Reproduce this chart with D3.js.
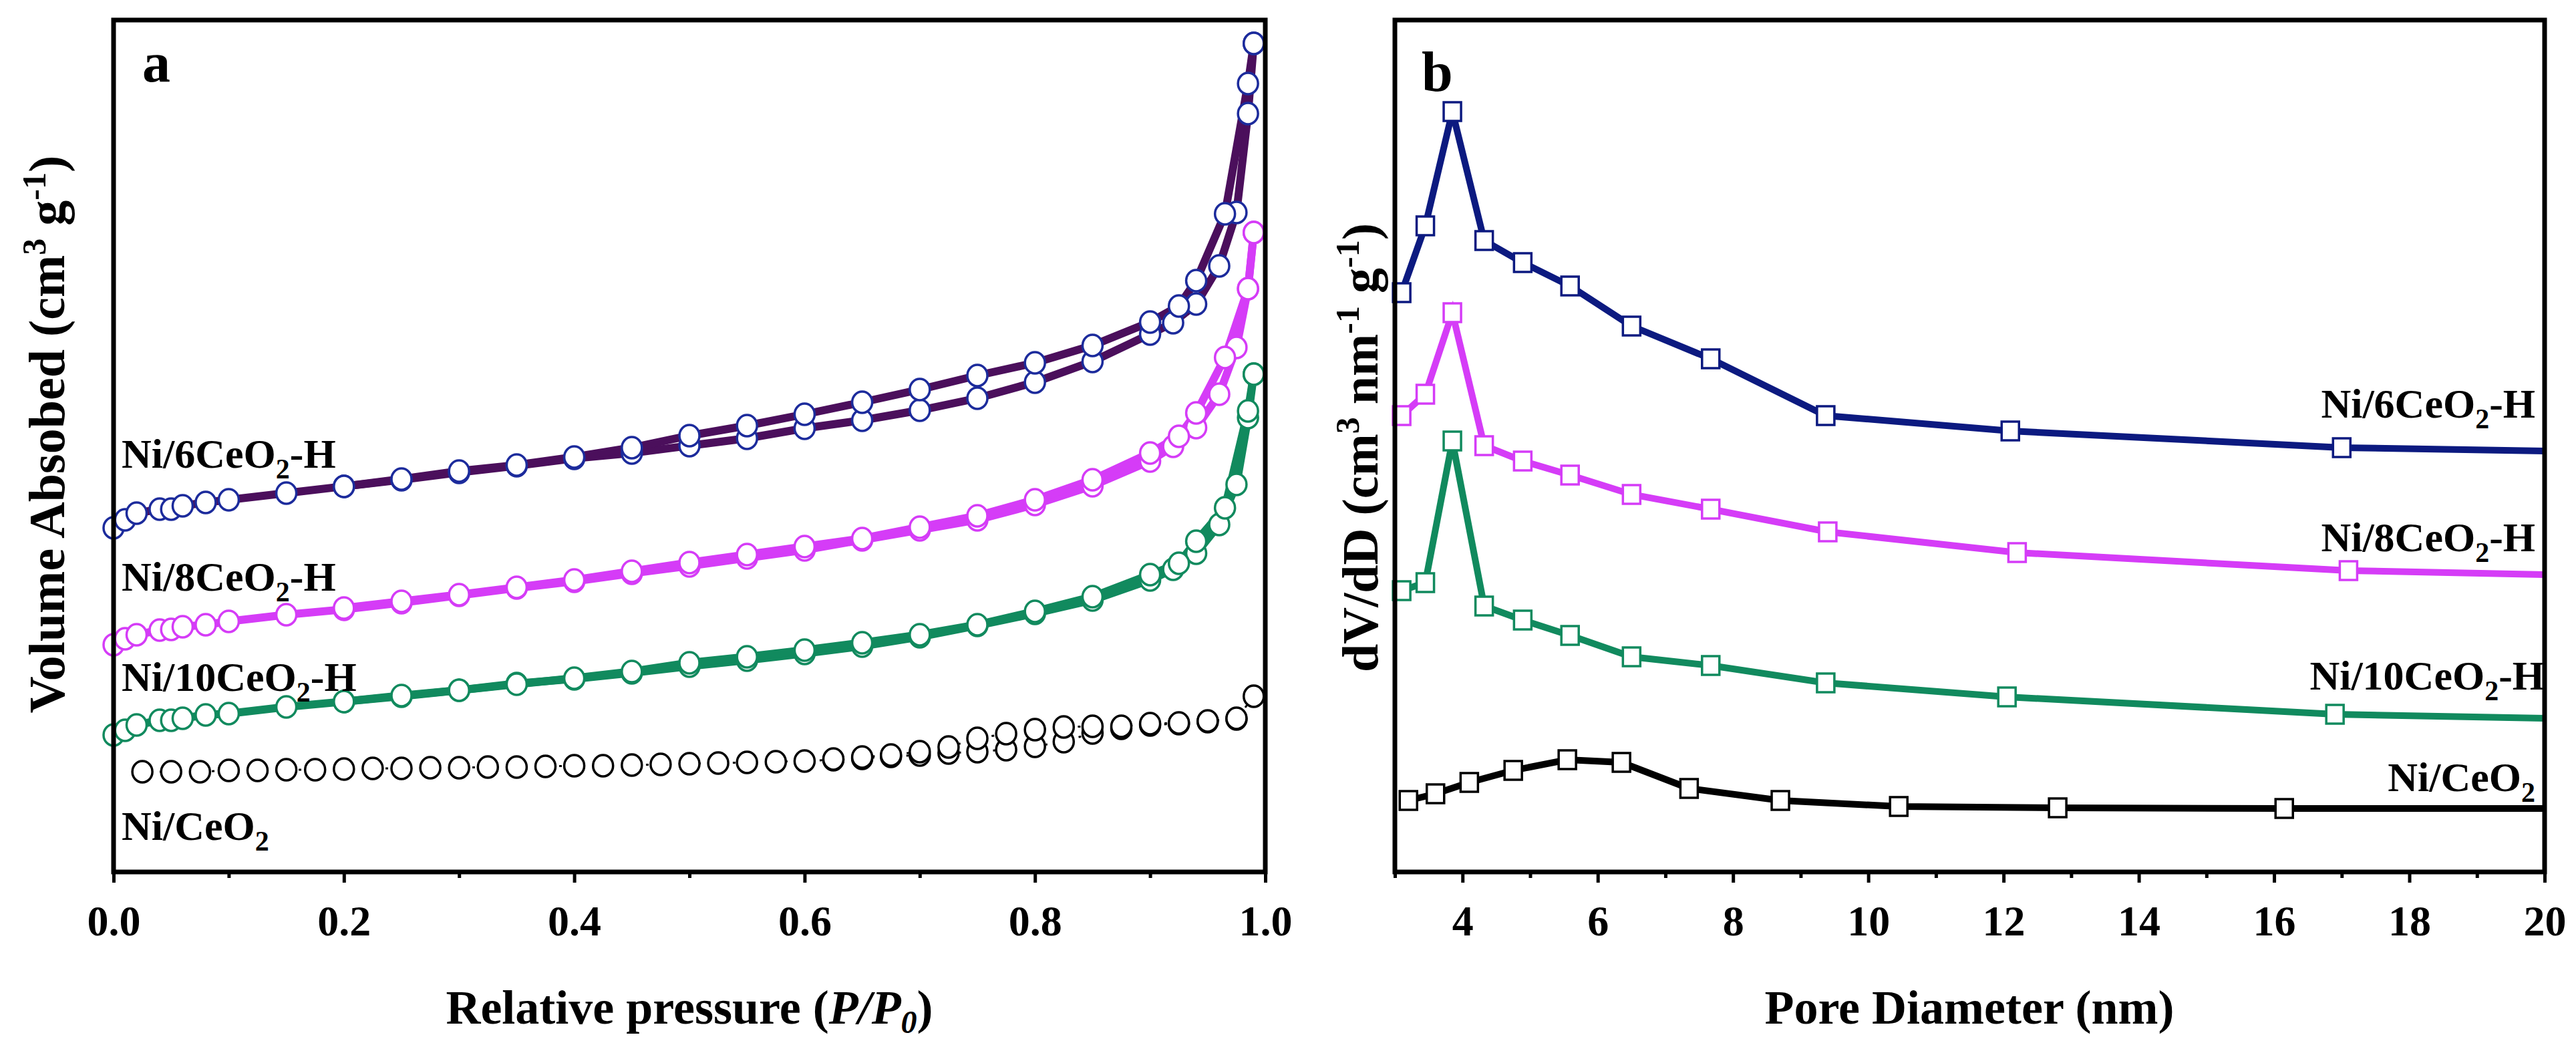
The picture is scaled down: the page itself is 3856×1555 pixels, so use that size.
<!DOCTYPE html><html><head><meta charset="utf-8">
<script src="https://cdn.jsdelivr.net/npm/d3@7"></script>
<style>body{margin:0;background:#fff}svg{font-family:"Liberation Serif","Times New Roman",serif;font-weight:bold}</style>
</head><body><svg id="c" width="3856" height="1555"></svg>
<script>
// Panel a: N2 isotherms
const xAds=[0,0.01,0.02,0.04,0.05,0.06,0.08,0.10,0.15,0.20,0.25,0.30,0.35,0.40,0.45,0.50,0.55,0.60,0.65,0.70,0.75,0.80,0.85,0.90,0.92,0.94,0.96,0.975,0.985,0.99];
const xDes=[0.99,0.985,0.965,0.94,0.925,0.90,0.85,0.80,0.75,0.70,0.65,0.60,0.55,0.50,0.45,0.40,0.35,0.30,0.25,0.20];
const ni6Ads=[51.5,52.7,53.7,54.3,54.3,54.8,55.3,55.7,56.7,57.7,58.7,59.8,60.8,61.9,62.7,63.8,64.9,66.4,67.6,69.1,70.9,73.3,76.4,80.5,82.2,85.0,90.7,98.7,113.5,124.0];
const ni6Des=[124.0,118.0,98.5,88.5,84.7,82.3,78.8,76.2,74.3,72.2,70.3,68.5,66.8,65.3,63.5,62.1,60.9,60.0,58.8,57.7];
const ni8Ads=[34.0,34.9,35.5,36.2,36.3,36.7,37.0,37.5,38.5,39.3,40.3,41.4,42.5,43.5,44.7,45.8,47.0,48.2,49.7,51.2,52.7,55.0,57.8,61.5,63.7,66.5,71.5,78.5,87.3,95.7];
const ni8Des=[95.7,87.3,77.0,68.7,65.2,62.7,58.7,55.7,53.3,51.6,49.9,48.7,47.5,46.3,45.0,43.7,42.6,41.5,40.5,39.5];
const ni10Ads=[20.5,21.2,22.0,22.7,22.7,23.0,23.5,23.7,24.7,25.5,26.3,27.2,28.2,28.9,29.8,30.8,31.7,32.7,33.8,35.2,36.9,38.7,40.7,43.7,45.3,47.7,52.0,58.0,68.0,74.5];
const ni10Des=[74.5,69.0,54.5,49.5,46.2,44.5,41.2,39.0,37.0,35.5,34.3,33.2,32.2,31.3,30.0,29.0,28.1,27.2,26.4,25.5];
const ceXAds=[0.025,0.05,0.075,0.1,0.125,0.15,0.175,0.2,0.225,0.25,0.275,0.3,0.325,0.35,0.375,0.4,0.425,0.45,0.475,0.5,0.525,0.55,0.575,0.6,0.625,0.65,0.675,0.7,0.725,0.75,0.775,0.8,0.825,0.85,0.875,0.9,0.925,0.95,0.975,0.99];
const ceAds=[15.0,15.0,15.0,15.2,15.2,15.3,15.3,15.4,15.5,15.5,15.6,15.6,15.7,15.7,15.8,15.9,15.9,16.0,16.1,16.2,16.3,16.4,16.5,16.6,16.8,17.0,17.3,17.5,17.8,18.0,18.3,18.8,19.5,20.8,21.5,22.0,22.2,22.5,22.9,26.3];
const ceXDes=[0.975,0.95,0.925,0.9,0.875,0.85,0.825,0.8,0.775,0.75,0.725,0.7,0.675,0.65,0.625];
const ceDes=[23.0,22.6,22.3,22.2,21.8,21.8,21.7,21.3,20.7,20.0,18.7,18.0,17.5,17.2,16.9];
// Panel b: pore size distribution
const psdX6=[3.1,3.45,3.85,4.32,4.89,5.59,6.5,7.67,9.37,12.1,17.0,20];
const psd6=[86.7,96.7,113.8,94.5,91.2,87.7,81.7,76.8,68.3,66.0,63.5,63.0];
const psdX8=[3.1,3.45,3.85,4.32,4.89,5.59,6.5,7.67,9.4,12.2,17.1,20];
const psd8=[68.3,71.5,83.7,63.8,61.5,59.4,56.5,54.3,50.9,47.8,45.1,44.5];
const psdX10=[3.1,3.45,3.85,4.32,4.89,5.59,6.5,7.67,9.37,12.05,16.9,20];
const psd10=[42.1,43.3,64.5,39.8,37.7,35.4,32.2,30.9,28.3,26.2,23.6,23.0];
const psdXCe=[3.2,3.6,4.1,4.75,5.55,6.35,7.35,8.7,10.45,12.8,16.15,20];
const psdCe=[10.7,11.7,13.4,15.2,16.8,16.4,12.5,10.7,9.8,9.6,9.5,9.5];
const ticksA=[0,0.2,0.4,0.6,0.8,1.0];
const ticksB=[4,6,8,10,12,14,16,18,20];

const svg=d3.select("#c");
const pTop=30,pBot=1305;
function panel(x0,x1,dom,ticks,minor,fmt){
  const x=d3.scaleLinear().domain(dom).range([x0,x1]);
  const y=d3.scaleLinear().domain([0,127.5]).range([pBot,pTop]);
  const g=svg.append("g");
  g.append("g").attr("transform",`translate(0,${pBot})`)
   .call(d3.axisBottom(x).tickValues(ticks).tickFormat(fmt).tickSize(16).tickSizeOuter(0).tickPadding(34))
   .call(a=>{a.select(".domain").remove();a.selectAll("line").attr("stroke","#000").attr("stroke-width",5);
     a.selectAll("text").attr("font-size",64).attr("font-family","Liberation Serif").attr("font-weight","bold").attr("fill","#000");});
  g.append("g").attr("transform",`translate(0,${pBot})`)
   .call(d3.axisBottom(x).tickValues(minor).tickFormat("").tickSize(9).tickSizeOuter(0))
   .call(a=>{a.select(".domain").remove();a.selectAll("line").attr("stroke","#000").attr("stroke-width",5);});
  return {x,y,g};
}
function frame(x0,x1){svg.append("rect").attr("x",x0).attr("y",pTop).attr("width",x1-x0).attr("height",pBot-pTop).attr("fill","none").attr("stroke","#000").attr("stroke-width",7);}

// Panel a
const A=panel(170,1894,[0,1],ticksA,d3.range(0.1,1,0.2),d3.format(".1f"));
const line=(P,xs,ys)=>d3.line().x((d,i)=>P.x(xs[i])).y(d=>P.y(d))(ys);
const isoSeries=[
 {ads:ni6Ads,des:ni6Des,xa:xAds,xd:xDes,line:"#4b0f5c",mk:"#1c2b9c",w:12},
 {ads:ni8Ads,des:ni8Des,xa:xAds,xd:xDes,line:"#d53cf7",mk:"#d53cf7",w:12},
 {ads:ni10Ads,des:ni10Des,xa:xAds,xd:xDes,line:"#118a5e",mk:"#118a5e",w:12},
 {ads:ceAds,des:ceDes,xa:ceXAds,xd:ceXDes,line:"#000",mk:"#000",w:3,dash:"4,22"}
];
isoSeries.forEach(s=>{
  [[s.xa,s.ads],[s.xd,s.des]].forEach(([xs,ys])=>{
    A.g.append("path").attr("d",line(A,xs,ys)).attr("fill","none").attr("stroke",s.line).attr("stroke-width",s.w).attr("stroke-dasharray",s.dash||null);
  });
  [[s.xa,s.ads],[s.xd,s.des]].forEach(([xs,ys])=>{
    A.g.selectAll(null).data(ys).enter().append("ellipse").attr("cx",(d,i)=>A.x(xs[i])).attr("cy",d=>A.y(d))
     .attr("rx",15).attr("ry",16).attr("fill","#fff").attr("stroke",s.mk).attr("stroke-width",3.5);
  });
});
frame(170,1894);
svg.append("text").attr("x",213).attr("y",122).attr("font-size",84).text("a");
const lblA=[["6",678],["8",862],["10",1012]];
lblA.forEach(([n,yy])=>{const t=svg.append("text").attr("x",182).attr("y",yy+22).attr("font-size",62);
 t.append("tspan").text(`Ni/${n}CeO`);t.append("tspan").attr("font-size",42).attr("dy",16).text("2");t.append("tspan").attr("dy",-16).text("-H");});
{const t=svg.append("text").attr("x",182).attr("y",1257).attr("font-size",62);t.append("tspan").text("Ni/CeO");t.append("tspan").attr("font-size",42).attr("dy",16).text("2");}
{const t=svg.append("text").attr("x",1032).attr("y",1532).attr("font-size",72).attr("text-anchor","middle");
 t.append("tspan").text("Relative pressure (");t.append("tspan").attr("font-style","italic").text("P/P");
 t.append("tspan").attr("font-style","italic").attr("font-size",48).attr("dy",14).text("0");t.append("tspan").attr("dy",-14).text(")");}
{const t=svg.append("text").attr("transform","translate(96,650) rotate(-90)").attr("font-size",76).attr("text-anchor","middle");
 t.append("tspan").text("Volume Absobed (cm");t.append("tspan").attr("font-size",50).attr("dy",-28).text("3");
 t.append("tspan").attr("dy",28).text(" g");t.append("tspan").attr("font-size",50).attr("dy",-28).text("-1");t.append("tspan").attr("dy",28).text(")");}

// Panel b
const B=panel(2088,3809,[3,20],ticksB,d3.range(3,20,1).filter(v=>v%2),d3.format("d"));
const psdSeries=[
 {xs:psdX6,ys:psd6,c:"#0c1a80"},{xs:psdX8,ys:psd8,c:"#d53cf7"},{xs:psdX10,ys:psd10,c:"#118a5e"},{xs:psdXCe,ys:psdCe,c:"#000"}];
psdSeries.forEach(s=>{
  B.g.append("path").attr("d",line(B,s.xs,s.ys)).attr("fill","none").attr("stroke",s.c).attr("stroke-width",10);
  B.g.selectAll(null).data(s.ys.slice(0,-1)).enter().append("rect")
   .attr("x",(d,i)=>B.x(s.xs[i])-13).attr("y",d=>B.y(d)-14).attr("width",26).attr("height",28)
   .attr("fill","#fff").attr("stroke",s.c).attr("stroke-width",3.5);
});
frame(2088,3809);
svg.append("text").attr("x",2128).attr("y",136).attr("font-size",84).text("b");
const lblB=[["6",603,3795],["8",803,3795],["10",1010,3809]];
lblB.forEach(([n,yy,xr])=>{const t=svg.append("text").attr("x",xr).attr("y",yy+22).attr("font-size",62).attr("text-anchor","end");
 t.append("tspan").text(`Ni/${n}CeO`);t.append("tspan").attr("font-size",42).attr("dy",16).text("2");t.append("tspan").attr("dy",-16).text("-H");});
{const t=svg.append("text").attr("x",3795).attr("y",1184).attr("font-size",62).attr("text-anchor","end");t.append("tspan").text("Ni/CeO");t.append("tspan").attr("font-size",42).attr("dy",16).text("2");}
svg.append("text").attr("x",2948).attr("y",1532).attr("font-size",72).attr("text-anchor","middle").text("Pore Diameter (nm)");
{const t=svg.append("text").attr("transform","translate(2062,670) rotate(-90)").attr("font-size",76).attr("text-anchor","middle");
 t.append("tspan").text("dV/dD (cm");t.append("tspan").attr("font-size",50).attr("dy",-28).text("3");
 t.append("tspan").attr("dy",28).text(" nm");t.append("tspan").attr("font-size",50).attr("dy",-28).text("-1");
 t.append("tspan").attr("dy",28).text(" g");t.append("tspan").attr("font-size",50).attr("dy",-28).text("-1");t.append("tspan").attr("dy",28).text(")");}
</script></body></html>
